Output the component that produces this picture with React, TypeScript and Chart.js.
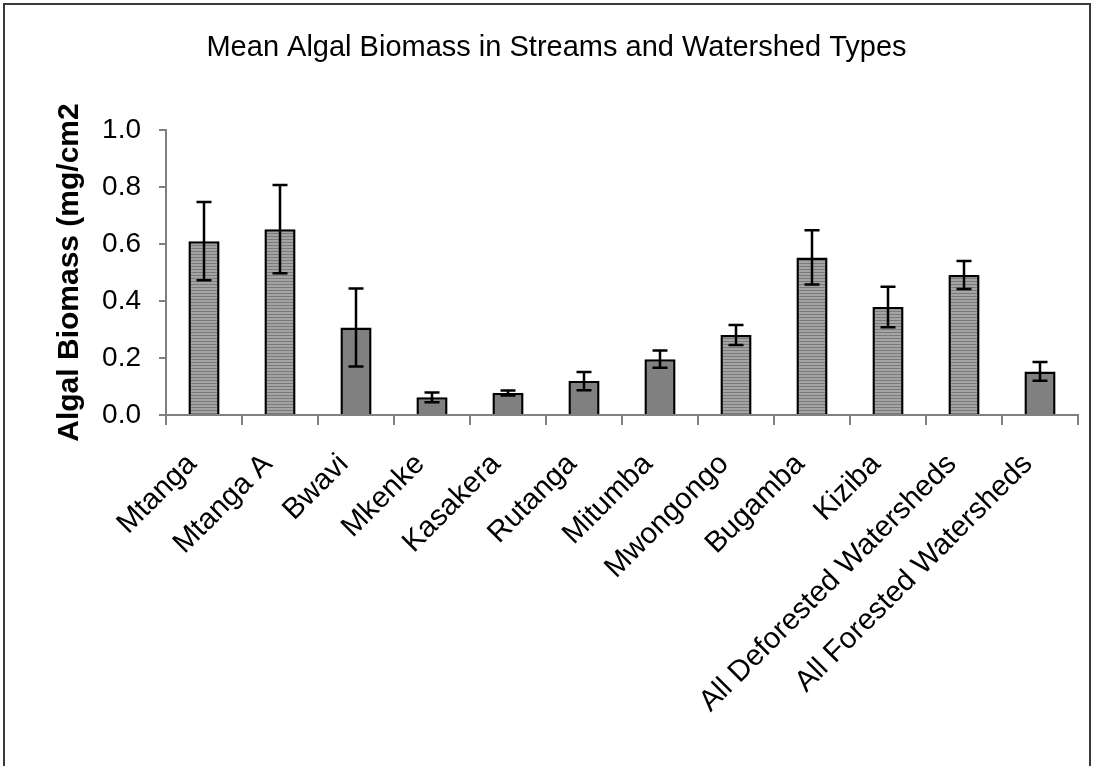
import React, { useEffect, useRef } from "react";
import { Chart, registerables } from "chart.js";

Chart.register(...registerables);

const chartTitle = "Mean Algal Biomass in Streams and Watershed Types";
const yAxisTitle = "Algal Biomass (mg/cm2";
const categories = [
  "Mtanga",
  "Mtanga A",
  "Bwavi",
  "Mkenke",
  "Kasakera",
  "Rutanga",
  "Mitumba",
  "Mwongongo",
  "Bugamba",
  "Kiziba",
  "All Deforested Watersheds",
  "All Forested Watersheds",
];
const meanBiomass = [0.61, 0.652, 0.307, 0.062, 0.077, 0.119, 0.196, 0.281, 0.553, 0.379, 0.491, 0.153];
const errorBiomass = [0.137, 0.155, 0.137, 0.017, 0.009, 0.032, 0.03, 0.035, 0.095, 0.071, 0.049, 0.033];
const watershedType = [
  "Deforested",
  "Deforested",
  "Forested",
  "Forested",
  "Forested",
  "Forested",
  "Forested",
  "Deforested",
  "Deforested",
  "Deforested",
  "Deforested",
  "Forested",
];
const yTicks = [0, 0.2, 0.4, 0.6, 0.8, 1.0];

const FONT = "'Liberation Sans', Arial, Helvetica, sans-serif";

function makeStripePattern(): CanvasPattern | string {
  const c = document.createElement("canvas");
  c.width = 4;
  c.height = 3;
  const g = c.getContext("2d");
  if (!g) return "#999999";
  g.fillStyle = "#a4a4a4";
  g.fillRect(0, 0, 4, 3);
  g.fillStyle = "#7a7a7a";
  g.fillRect(0, 2, 4, 1);
  const p = g.createPattern(c, "repeat");
  return p || "#999999";
}

const framePlugin = {
  id: "frame",
  afterLayout(chart: any) {
    // centre the title over the whole frame rather than the padded layout box
    if (chart.titleBlock) {
      chart.titleBlock.left = 35;
      chart.titleBlock.right = 1078;
    }
  },
  beforeDraw(chart: any) {
    const { ctx, width, height } = chart;
    ctx.save();
    ctx.fillStyle = "#ffffff";
    ctx.fillRect(0, 0, width, height);
    ctx.strokeStyle = "#3a3a3a";
    ctx.lineWidth = 2;
    ctx.strokeRect(4, 4, width - 9, height + 10);
    ctx.restore();
  },
};

const errorBarPlugin = {
  id: "errorBars",
  afterDatasetsDraw(chart: any) {
    const { ctx } = chart;
    const meta = chart.getDatasetMeta(0);
    const yScale = chart.scales.y;
    ctx.save();
    ctx.strokeStyle = "#000000";
    ctx.lineWidth = 2.5;
    meta.data.forEach((bar: any, i: number) => {
      const v = meanBiomass[i];
      const e = errorBiomass[i];
      const x = bar.x;
      const yTop = yScale.getPixelForValue(v + e);
      const yBot = yScale.getPixelForValue(v - e);
      const cap = 7.5;
      ctx.beginPath();
      ctx.moveTo(x, yTop);
      ctx.lineTo(x, yBot);
      ctx.moveTo(x - cap, yTop);
      ctx.lineTo(x + cap, yTop);
      ctx.moveTo(x - cap, yBot);
      ctx.lineTo(x + cap, yBot);
      ctx.stroke();
    });
    ctx.restore();
  },
};

export default function App() {
  const canvasRef = useRef<HTMLCanvasElement | null>(null);

  useEffect(() => {
    document.body.style.margin = "0";
    const canvas = canvasRef.current;
    if (!canvas) return;
    const stripe = makeStripePattern();
    const fills = watershedType.map((t) => (t === "Deforested" ? stripe : "#808080"));

    const chart = new Chart(canvas, {
      type: "bar",
      data: {
        labels: categories,
        datasets: [
          {
            label: "Mean algal biomass",
            data: meanBiomass,
            backgroundColor: fills as any,
            borderColor: "#000000",
            borderWidth: 2.5,
            barPercentage: 0.41,
            categoryPercentage: 1,
          },
        ],
      },
      options: {
        animation: false,
        responsive: false,
        maintainAspectRatio: false,
        layout: { padding: { left: 3, right: 17, top: 0, bottom: 0 } },
        plugins: {
          legend: { display: false },
          tooltip: { enabled: false },
          title: {
            display: true,
            text: chartTitle,
            color: "#000000",
            font: { family: FONT, size: 29, weight: "normal" },
            padding: { top: 31, bottom: 64.2 },
          },
        },
        scales: {
          x: {
            grid: {
              display: true,
              drawOnChartArea: false,
              drawTicks: true,
              tickLength: 10,
              color: "#808080",
              lineWidth: 2,
              offset: true,
            },
            border: { display: true, color: "#808080", width: 2 },
            ticks: {
              color: "#000000",
              font: { family: FONT, size: 29.5 },
              minRotation: 45,
              maxRotation: 45,
              autoSkip: false,
              padding: 22,
              labelOffset: -12,
            },
            afterFit(scale: any) {
              scale.height = 351;
            },
          },
          y: {
            min: 0,
            max: 1.0,
            afterBuildTicks(scale: any) {
              scale.ticks = yTicks.map((v) => ({ value: v }));
            },
            grid: {
              display: true,
              drawOnChartArea: false,
              drawTicks: true,
              tickLength: 7,
              color: "#808080",
              lineWidth: 2,
            },
            border: { display: true, color: "#808080", width: 2 },
            ticks: {
              color: "#000000",
              font: { family: FONT, size: 28 },
              padding: 18,
              callback: (v: any) => Number(v).toFixed(1),
            },
            title: {
              display: true,
              text: yAxisTitle,
              color: "#000000",
              font: { family: FONT, size: 30, weight: "bold" },
              padding: { top: 49, bottom: 0 },
            },
            afterFit(scale: any) {
              scale.width = 163;
            },
          },
        },
      },
      plugins: [framePlugin, errorBarPlugin],
    });

    return () => chart.destroy();
  }, []);

  return (
    <div style={{ width: 1095, height: 766, position: "relative" }}>
      <canvas ref={canvasRef} width={1095} height={766} style={{ display: "block" }} />
    </div>
  );
}
